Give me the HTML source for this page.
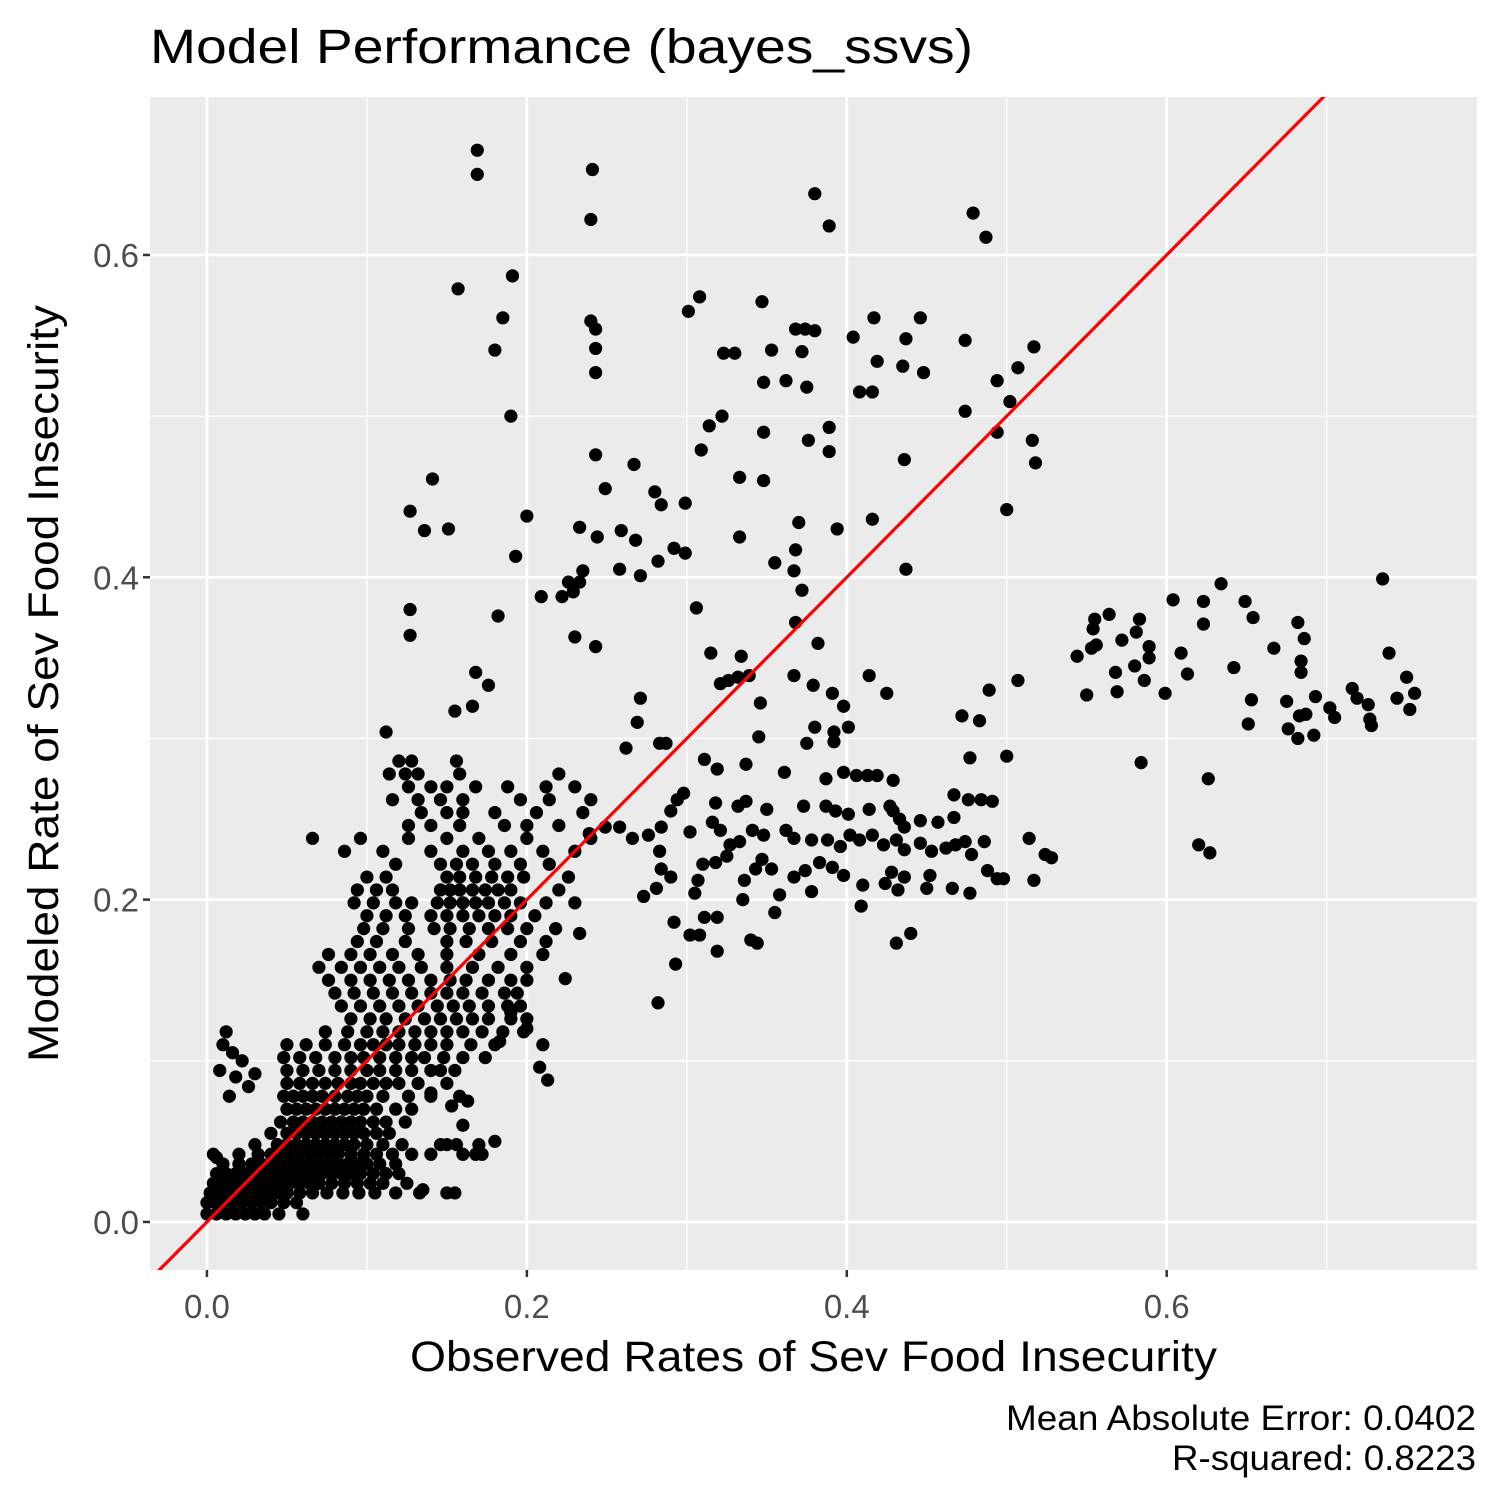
<!DOCTYPE html>
<html><head><meta charset="utf-8"><style>
html,body{margin:0;padding:0;background:#fff;}
svg text{font-family:"Liberation Sans",Arial,sans-serif;}
</style></head><body>
<svg id="chart" width="1500" height="1500" viewBox="0 0 1500 1500" xmlns="http://www.w3.org/2000/svg">
<rect x="0" y="0" width="1500" height="1500" fill="#fff"/>
<text x="150" y="63" font-size="48" textLength="823" lengthAdjust="spacingAndGlyphs" fill="#000">Model Performance (bayes_ssvs)</text>
<rect x="150" y="97" width="1327" height="1173" fill="#EBEBEB"/>
<g id="grid"></g>
<g id="axes"></g>
<defs><clipPath id="clip"><rect x="150" y="97" width="1327" height="1173"/></clipPath></defs>
<g id="points" clip-path="url(#clip)"></g>
<g id="refline" clip-path="url(#clip)"></g>
<text x="410" y="1371" font-size="43" textLength="807" lengthAdjust="spacingAndGlyphs" fill="#000">Observed Rates of Sev Food Insecurity</text>
<text transform="translate(58,1062) rotate(-90)" font-size="43" textLength="757" lengthAdjust="spacingAndGlyphs" fill="#000">Modeled Rate of Sev Food Insecurity</text>
<text x="1006" y="1430" font-size="35" textLength="470" lengthAdjust="spacingAndGlyphs" fill="#000">Mean Absolute Error: 0.0402</text>
<text x="1172" y="1470" font-size="35" textLength="304" lengthAdjust="spacingAndGlyphs" fill="#000">R-squared: 0.8223</text>
</svg>
<script>
const xTicks=[0,0.2,0.4,0.6];
const yTicks=[0,0.2,0.4,0.6];
const xTickLabels=["0.0","0.2","0.4","0.6"];
const yTickLabels=["0.0","0.2","0.4","0.6"];
const xDomain=[-0.0356,0.794];
const yDomain=[-0.0298,0.698];
const sparseHigh=[[0.169,0.665],[0.169,0.650],[0.241,0.653],[0.240,0.622],[0.380,0.638],[0.389,0.618],[0.479,0.626],[0.487,0.611],[0.157,0.579],[0.191,0.587],[0.185,0.561],[0.180,0.541],[0.190,0.500],[0.240,0.559],[0.243,0.554],[0.243,0.542],[0.243,0.527],[0.243,0.476],[0.308,0.574],[0.301,0.565],[0.347,0.571],[0.323,0.539],[0.330,0.539],[0.322,0.500],[0.314,0.494],[0.309,0.479],[0.348,0.521],[0.348,0.490],[0.333,0.462],[0.348,0.460],[0.353,0.541],[0.368,0.554],[0.374,0.554],[0.380,0.553],[0.372,0.540],[0.362,0.522],[0.375,0.518],[0.376,0.485],[0.389,0.493],[0.389,0.478],[0.404,0.549],[0.417,0.561],[0.419,0.534],[0.408,0.515],[0.416,0.515],[0.435,0.531],[0.437,0.548],[0.446,0.561],[0.448,0.527],[0.436,0.473],[0.474,0.547],[0.474,0.503],[0.494,0.522],[0.502,0.509],[0.507,0.530],[0.517,0.543],[0.494,0.490],[0.516,0.485],[0.518,0.471],[0.500,0.442]];
const sparseMid=[[0.267,0.470],[0.249,0.455],[0.280,0.453],[0.284,0.445],[0.299,0.446],[0.141,0.461],[0.127,0.441],[0.136,0.429],[0.151,0.430],[0.200,0.438],[0.193,0.413],[0.233,0.431],[0.259,0.429],[0.268,0.423],[0.244,0.425],[0.292,0.418],[0.299,0.415],[0.282,0.410],[0.258,0.405],[0.235,0.404],[0.226,0.397],[0.233,0.397],[0.229,0.391],[0.222,0.388],[0.209,0.388],[0.271,0.401],[0.333,0.425],[0.394,0.430],[0.416,0.436],[0.355,0.409],[0.368,0.417],[0.370,0.434],[0.367,0.404],[0.372,0.392],[0.437,0.405],[0.306,0.381],[0.368,0.372],[0.127,0.380],[0.127,0.364],[0.182,0.376],[0.230,0.363],[0.243,0.357],[0.315,0.353],[0.334,0.351],[0.321,0.334],[0.326,0.336],[0.332,0.338],[0.339,0.339],[0.382,0.359],[0.367,0.339],[0.379,0.333],[0.391,0.328],[0.398,0.320],[0.414,0.339],[0.425,0.328],[0.271,0.325],[0.269,0.310],[0.283,0.297],[0.287,0.297],[0.262,0.294],[0.311,0.287],[0.346,0.322],[0.345,0.301],[0.375,0.297],[0.380,0.307],[0.392,0.304],[0.392,0.298],[0.401,0.307],[0.168,0.341],[0.176,0.333],[0.166,0.320],[0.155,0.317],[0.112,0.304]];
const sparseRight=[[0.507,0.336],[0.489,0.330],[0.483,0.311],[0.472,0.314],[0.477,0.288],[0.500,0.289],[0.544,0.351],[0.555,0.374],[0.554,0.368],[0.564,0.377],[0.556,0.358],[0.553,0.356],[0.550,0.327],[0.568,0.341],[0.569,0.329],[0.572,0.361],[0.581,0.366],[0.583,0.374],[0.580,0.345],[0.586,0.336],[0.589,0.357],[0.589,0.350],[0.599,0.328],[0.584,0.285],[0.604,0.386],[0.609,0.353],[0.613,0.340],[0.623,0.385],[0.623,0.371],[0.634,0.396],[0.642,0.344],[0.649,0.385],[0.654,0.375],[0.653,0.324],[0.651,0.309],[0.667,0.356],[0.682,0.372],[0.686,0.362],[0.684,0.348],[0.684,0.341],[0.675,0.323],[0.676,0.306],[0.683,0.314],[0.687,0.315],[0.682,0.300],[0.692,0.302],[0.693,0.326],[0.702,0.319],[0.705,0.313],[0.716,0.331],[0.719,0.325],[0.726,0.321],[0.727,0.312],[0.728,0.308],[0.735,0.399],[0.739,0.353],[0.744,0.325],[0.750,0.338],[0.752,0.318],[0.755,0.328],[0.626,0.275],[0.620,0.234],[0.627,0.229]];
const band=[[0.319,0.281],[0.337,0.284],[0.361,0.279],[0.387,0.275],[0.398,0.279],[0.406,0.277],[0.413,0.277],[0.419,0.277],[0.429,0.274],[0.467,0.265],[0.476,0.262],[0.484,0.262],[0.491,0.261],[0.318,0.260],[0.332,0.258],[0.337,0.261],[0.350,0.256],[0.373,0.258],[0.387,0.258],[0.393,0.255],[0.401,0.253],[0.414,0.256],[0.427,0.258],[0.429,0.255],[0.433,0.250],[0.436,0.245],[0.446,0.249],[0.457,0.248],[0.467,0.251],[0.290,0.255],[0.294,0.262],[0.298,0.266],[0.302,0.242],[0.316,0.248],[0.321,0.243],[0.327,0.234],[0.333,0.236],[0.341,0.243],[0.348,0.240],[0.362,0.243],[0.367,0.238],[0.378,0.237],[0.388,0.237],[0.396,0.233],[0.402,0.240],[0.408,0.237],[0.416,0.240],[0.423,0.234],[0.431,0.237],[0.436,0.231],[0.446,0.235],[0.453,0.230],[0.462,0.232],[0.468,0.234],[0.474,0.236],[0.478,0.228],[0.486,0.236],[0.514,0.238],[0.524,0.228],[0.528,0.226],[0.517,0.212],[0.494,0.213],[0.498,0.213],[0.488,0.218],[0.477,0.204],[0.466,0.207],[0.450,0.207],[0.452,0.215],[0.432,0.206],[0.436,0.214],[0.428,0.217],[0.424,0.210],[0.410,0.209],[0.409,0.196],[0.398,0.215],[0.391,0.220],[0.383,0.223],[0.378,0.205],[0.374,0.218],[0.367,0.214],[0.358,0.203],[0.355,0.192],[0.353,0.219],[0.347,0.225],[0.343,0.219],[0.336,0.212],[0.335,0.200],[0.325,0.227],[0.318,0.223],[0.310,0.222],[0.307,0.212],[0.305,0.204],[0.290,0.214],[0.284,0.219],[0.283,0.230],[0.281,0.207],[0.273,0.202],[0.311,0.189],[0.319,0.189],[0.302,0.178],[0.308,0.178],[0.292,0.186],[0.319,0.168],[0.340,0.175],[0.344,0.173],[0.293,0.160],[0.282,0.136],[0.431,0.173],[0.440,0.179],[0.284,0.245],[0.276,0.240],[0.266,0.238],[0.258,0.245],[0.249,0.245],[0.239,0.241],[0.233,0.179],[0.224,0.151]];
const denseRowY=[0.005,0.012,0.018,0.024,0.030,0.036,0.042,0.048,0.055,0.062,0.070,0.078,0.086,0.094,0.102,0.110,0.118,0.126,0.134,0.142,0.150,0.158,0.166,0.174,0.182,0.190,0.198,0.206,0.214,0.222,0.230,0.238,0.246,0.254,0.262,0.270,0.278,0.286];
const denseRowX=[
[0.000,0.006,0.012,0.018,0.024,0.030,0.036,0.045,0.060],
[0.000,0.005,0.010,0.016,0.022,0.028,0.034,0.040,0.048,0.056],
[0.002,0.008,0.014,0.020,0.026,0.032,0.038,0.044,0.050,0.058,0.066,0.075,0.085,0.095,0.105,0.118,0.133,0.155],
[0.004,0.010,0.016,0.022,0.028,0.034,0.040,0.046,0.052,0.058,0.064,0.070,0.078,0.086,0.094,0.102,0.110,0.125],
[0.006,0.012,0.018,0.024,0.030,0.036,0.042,0.048,0.054,0.060,0.066,0.072,0.078,0.084,0.090,0.096,0.104,0.112,0.120],
[0.010,0.020,0.028,0.034,0.040,0.046,0.052,0.058,0.064,0.070,0.076,0.082,0.088,0.094,0.100,0.108,0.118],
[0.004,0.020,0.032,0.040,0.046,0.052,0.058,0.064,0.070,0.076,0.082,0.090,0.098,0.106,0.116,0.128,0.140,0.160,0.168,0.172],
[0.030,0.044,0.050,0.056,0.062,0.068,0.074,0.080,0.086,0.092,0.100,0.110,0.122,0.150,0.156],
[0.040,0.050,0.056,0.062,0.068,0.074,0.080,0.086,0.092,0.098,0.106,0.114],
[0.046,0.054,0.060,0.066,0.072,0.078,0.084,0.090,0.096,0.104,0.112,0.124],
[0.050,0.056,0.062,0.068,0.074,0.080,0.086,0.092,0.098,0.106,0.118,0.128],
[0.048,0.054,0.060,0.066,0.072,0.080,0.088,0.094,0.100,0.110,0.126,0.140,0.158],
[0.050,0.058,0.066,0.074,0.082,0.090,0.096,0.104,0.112,0.120,0.132,0.150],
[0.050,0.060,0.070,0.080,0.090,0.100,0.108,0.118,0.128,0.140,0.146,0.155],
[0.048,0.058,0.068,0.080,0.090,0.098,0.108,0.118,0.128,0.136,0.148,0.160,0.174],
[0.050,0.062,0.074,0.086,0.096,0.104,0.112,0.120,0.130,0.140,0.150,0.165,0.180],
[0.074,0.088,0.100,0.110,0.120,0.130,0.140,0.150,0.160,0.172,0.185,0.198],
[0.090,0.102,0.112,0.124,0.136,0.146,0.156,0.166,0.176,0.190,0.200],
[0.084,0.096,0.108,0.120,0.132,0.144,0.154,0.164,0.176,0.188,0.196],
[0.080,0.092,0.104,0.116,0.128,0.140,0.150,0.160,0.172,0.186,0.194],
[0.076,0.090,0.102,0.114,0.126,0.140,0.152,0.162,0.176,0.190,0.200],
[0.070,0.084,0.096,0.108,0.120,0.134,0.150,0.166,0.182,0.200],
[0.076,0.090,0.102,0.116,0.132,0.150,0.170,0.190,0.210],
[0.094,0.106,0.124,0.150,0.162,0.178,0.196,0.212],
[0.098,0.110,0.126,0.142,0.152,0.164,0.176,0.188,0.200,0.218],
[0.100,0.112,0.124,0.140,0.150,0.160,0.170,0.180,0.190,0.205],
[0.092,0.104,0.118,0.128,0.144,0.152,0.160,0.168,0.176,0.186,0.196,0.212,0.230],
[0.094,0.106,0.116,0.146,0.152,0.158,0.166,0.174,0.182,0.190,0.220],
[0.100,0.112,0.150,0.158,0.168,0.178,0.188,0.198,0.226],
[0.118,0.146,0.156,0.166,0.180,0.196,0.214],
[0.086,0.110,0.140,0.160,0.176,0.190,0.210,0.230],
[0.066,0.096,0.126,0.150,0.170,0.200,0.240],
[0.126,0.140,0.158,0.186,0.200,0.220],
[0.134,0.150,0.160,0.180,0.206,0.235],
[0.116,0.132,0.146,0.160,0.196,0.214,0.240],
[0.126,0.140,0.150,0.168,0.188,0.212,0.230],
[0.114,0.124,0.132,0.158,0.220],
[0.120,0.128,0.156]];
const extras=[[0.010,0.110],[0.012,0.118],[0.016,0.105],[0.022,0.100],[0.008,0.094],[0.018,0.090],[0.030,0.092],[0.026,0.084],[0.014,0.078],[0.006,0.040],[0.012,0.030],[0.183,0.112],[0.208,0.096],[0.213,0.088],[0.190,0.130],[0.200,0.120],[0.210,0.110],[0.170,0.048],[0.150,0.018],[0.135,0.020],[0.180,0.050],[0.146,0.048],[0.160,0.060],[0.153,0.072],[0.163,0.075],[0.140,0.080]];

const PX0=150,PX1=1477,PY0=97,PY1=1270;
const sx=v=>PX0+(v-xDomain[0])/(xDomain[1]-xDomain[0])*(PX1-PX0);
const sy=v=>PY1-(v-yDomain[0])/(yDomain[1]-yDomain[0])*(PY1-PY0);
const NS="http://www.w3.org/2000/svg";
function mk(tag,attrs,parent){const e=document.createElementNS(NS,tag);for(const k in attrs)e.setAttribute(k,attrs[k]);parent.appendChild(e);return e;}
const grid=document.getElementById('grid'),axes=document.getElementById('axes'),pts=document.getElementById('points');
[0.1,0.3,0.5,0.7].forEach(v=>{const l=mk('line',{x1:sx(v),x2:sx(v),y1:PY0,y2:PY1,stroke:'#fff','stroke-width':1.3},grid);

});
[0.1,0.3,0.5].forEach(v=>{const l=mk('line',{y1:sy(v),y2:sy(v),x1:PX0,x2:PX1,stroke:'#fff','stroke-width':1.3},grid);

});
xTicks.forEach((v,i)=>{const l=mk('line',{x1:sx(v),x2:sx(v),y1:PY0,y2:PY1,stroke:'#fff','stroke-width':2.7},grid);


const t=mk('line',{x1:sx(v),x2:sx(v),y1:PY1,y2:PY1+7,stroke:'#333','stroke-width':2.5},axes);


const tx=mk('text',{x:sx(v),y:1318,'font-size':33,'text-anchor':'middle',fill:'#4D4D4D'},axes);tx.textContent=xTickLabels[i];

});
yTicks.forEach((v,i)=>{const l=mk('line',{y1:sy(v),y2:sy(v),x1:PX0,x2:PX1,stroke:'#fff','stroke-width':2.7},grid);


const t=mk('line',{y1:sy(v),y2:sy(v),x1:PX0-7,x2:PX0,stroke:'#333','stroke-width':2.5},axes);


const tx=mk('text',{x:PX0-11,y:sy(v)+12,'font-size':33,'text-anchor':'end',fill:'#4D4D4D'},axes);tx.textContent=yTickLabels[i];

});
function dot(x,y){const c=mk('circle',{cx:sx(x),cy:sy(y),r:6.6,fill:'#000'},pts);

}
[sparseHigh,sparseMid,sparseRight,band,extras].forEach(g=>g.forEach(p=>dot(p[0],p[1])));
denseRowY.forEach((y,i)=>denseRowX[i].forEach(x=>dot(x,y)));
const rl=mk('line',{x1:sx(-0.05),y1:sy(-0.05),x2:sx(0.8),y2:sy(0.8),stroke:'#FF0000','stroke-width':3.2},document.getElementById('refline'));


</script>
</body></html>
